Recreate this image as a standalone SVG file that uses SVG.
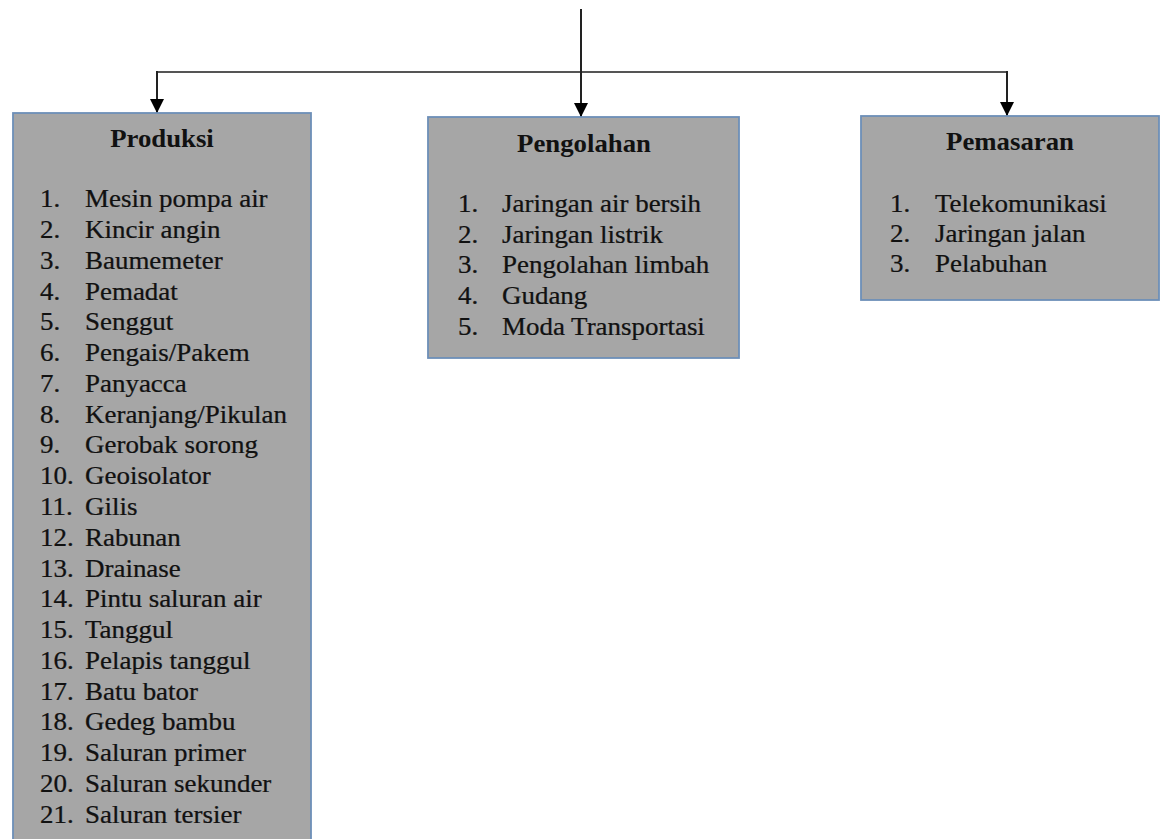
<svg xmlns="http://www.w3.org/2000/svg" width="1160" height="839" viewBox="0 0 1160 839">
<defs>
<marker id="arr" viewBox="0 0 14 14" refX="14" refY="7" markerWidth="14" markerHeight="14" markerUnits="userSpaceOnUse" orient="auto">
<path d="M0,0 L14,7 L0,14 Z" fill="#000"/>
</marker>
<style>
.box{fill:#a6a6a6;stroke:#6d8fb8;stroke-width:1.8}
text.ttl{font-family:"Liberation Serif","Times New Roman",serif;font-size:25.5px;font-weight:bold;fill:#111;text-anchor:middle}
text.it{font-family:"Liberation Serif","Times New Roman",serif;font-size:24.5px;fill:#111;stroke:#111;stroke-width:0.25}
.ln{fill:none;stroke:#222;stroke-width:2}
.hl{fill:none;stroke:#555;stroke-width:2}
</style>
</defs>
<rect width="1160" height="839" fill="#fff"/>
<g id="connectors">
<line class="hl" x1="157" y1="72" x2="1007" y2="72"/>
<line class="ln" x1="581" y1="9" x2="581" y2="117" marker-end="url(#arr)"/>
<line class="ln" x1="157" y1="71" x2="157" y2="113" marker-end="url(#arr)"/>
<line class="ln" x1="1007" y1="71" x2="1007" y2="116" marker-end="url(#arr)"/>
</g>
<g id="produksi">
<rect class="box" x="13" y="113" width="298" height="740"/>
<text class="ttl" transform="translate(162 147) scale(1.05 1)">Produksi</text>
<text class="it" transform="translate(40 207) scale(1.1 1)">1.</text><text class="it" transform="translate(85 207) scale(1.1 1)">Mesin pompa air</text>
<text class="it" transform="translate(40 238) scale(1.1 1)">2.</text><text class="it" transform="translate(85 238) scale(1.1 1)">Kincir angin</text>
<text class="it" transform="translate(40 269) scale(1.1 1)">3.</text><text class="it" transform="translate(85 269) scale(1.1 1)">Baumemeter</text>
<text class="it" transform="translate(40 300) scale(1.1 1)">4.</text><text class="it" transform="translate(85 300) scale(1.1 1)">Pemadat</text>
<text class="it" transform="translate(40 330) scale(1.1 1)">5.</text><text class="it" transform="translate(85 330) scale(1.1 1)">Senggut</text>
<text class="it" transform="translate(40 361) scale(1.1 1)">6.</text><text class="it" transform="translate(85 361) scale(1.1 1)">Pengais/Pakem</text>
<text class="it" transform="translate(40 392) scale(1.1 1)">7.</text><text class="it" transform="translate(85 392) scale(1.1 1)">Panyacca</text>
<text class="it" transform="translate(40 423) scale(1.1 1)">8.</text><text class="it" transform="translate(85 423) scale(1.1 1)">Keranjang/Pikulan</text>
<text class="it" transform="translate(40 453) scale(1.1 1)">9.</text><text class="it" transform="translate(85 453) scale(1.1 1)">Gerobak sorong</text>
<text class="it" transform="translate(40 484) scale(1.1 1)">10.</text><text class="it" transform="translate(85 484) scale(1.1 1)">Geoisolator</text>
<text class="it" transform="translate(40 515) scale(1.1 1)">11.</text><text class="it" transform="translate(85 515) scale(1.1 1)">Gilis</text>
<text class="it" transform="translate(40 546) scale(1.1 1)">12.</text><text class="it" transform="translate(85 546) scale(1.1 1)">Rabunan</text>
<text class="it" transform="translate(40 577) scale(1.1 1)">13.</text><text class="it" transform="translate(85 577) scale(1.1 1)">Drainase</text>
<text class="it" transform="translate(40 607) scale(1.1 1)">14.</text><text class="it" transform="translate(85 607) scale(1.1 1)">Pintu saluran air</text>
<text class="it" transform="translate(40 638) scale(1.1 1)">15.</text><text class="it" transform="translate(85 638) scale(1.1 1)">Tanggul</text>
<text class="it" transform="translate(40 669) scale(1.1 1)">16.</text><text class="it" transform="translate(85 669) scale(1.1 1)">Pelapis tanggul</text>
<text class="it" transform="translate(40 700) scale(1.1 1)">17.</text><text class="it" transform="translate(85 700) scale(1.1 1)">Batu bator</text>
<text class="it" transform="translate(40 730) scale(1.1 1)">18.</text><text class="it" transform="translate(85 730) scale(1.1 1)">Gedeg bambu</text>
<text class="it" transform="translate(40 761) scale(1.1 1)">19.</text><text class="it" transform="translate(85 761) scale(1.1 1)">Saluran primer</text>
<text class="it" transform="translate(40 792) scale(1.1 1)">20.</text><text class="it" transform="translate(85 792) scale(1.1 1)">Saluran sekunder</text>
<text class="it" transform="translate(40 823) scale(1.1 1)">21.</text><text class="it" transform="translate(85 823) scale(1.1 1)">Saluran tersier</text>
</g>
<g id="pengolahan">
<rect class="box" x="428" y="117" width="311" height="241"/>
<text class="ttl" transform="translate(584 152) scale(1.05 1)">Pengolahan</text>
<text class="it" transform="translate(458 212) scale(1.1 1)">1.</text><text class="it" transform="translate(502 212) scale(1.1 1)">Jaringan air bersih</text>
<text class="it" transform="translate(458 243) scale(1.1 1)">2.</text><text class="it" transform="translate(502 243) scale(1.1 1)">Jaringan listrik</text>
<text class="it" transform="translate(458 273) scale(1.1 1)">3.</text><text class="it" transform="translate(502 273) scale(1.1 1)">Pengolahan limbah</text>
<text class="it" transform="translate(458 304) scale(1.1 1)">4.</text><text class="it" transform="translate(502 304) scale(1.1 1)">Gudang</text>
<text class="it" transform="translate(458 335) scale(1.1 1)">5.</text><text class="it" transform="translate(502 335) scale(1.1 1)">Moda Transportasi</text>
</g>
<g id="pemasaran">
<rect class="box" x="861" y="116" width="298" height="184"/>
<text class="ttl" transform="translate(1010 150) scale(1.05 1)">Pemasaran</text>
<text class="it" transform="translate(890 212) scale(1.1 1)">1.</text><text class="it" transform="translate(935 212) scale(1.1 1)">Telekomunikasi</text>
<text class="it" transform="translate(890 242) scale(1.1 1)">2.</text><text class="it" transform="translate(935 242) scale(1.1 1)">Jaringan jalan</text>
<text class="it" transform="translate(890 272) scale(1.1 1)">3.</text><text class="it" transform="translate(935 272) scale(1.1 1)">Pelabuhan</text>
</g>
</svg>
